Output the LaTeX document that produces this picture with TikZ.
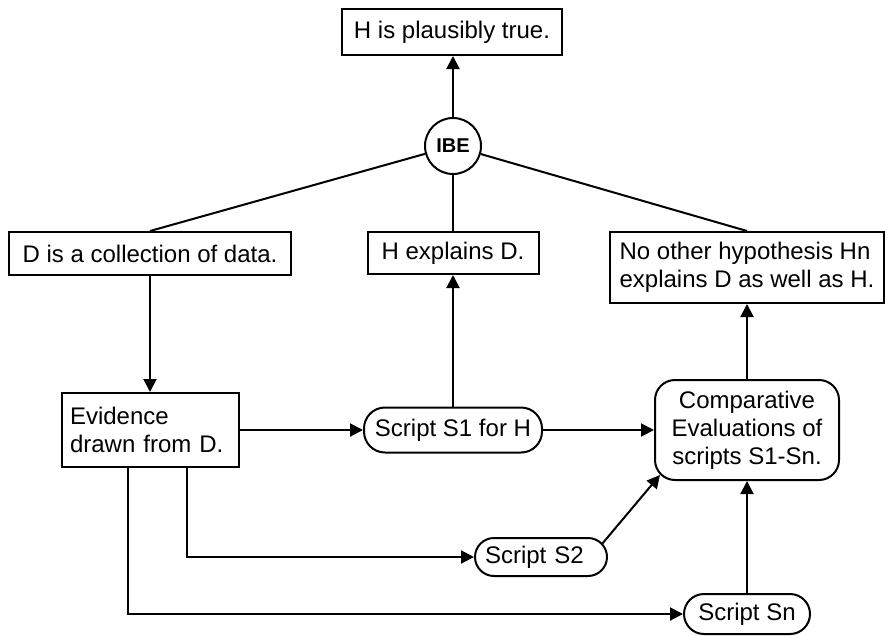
\documentclass[tikz,border=0pt]{standalone}
\usepackage{fontspec}
\setmainfont{Liberation Sans}
\usetikzlibrary{arrows.meta,calc}
\begin{document}
\begin{tikzpicture}[x=1pt,y=-1pt,
  every node/.style={font=\fontsize{24}{28}\selectfont, line width=2pt},
  box/.style={draw, rectangle, inner sep=0pt},
  pill/.style={draw, rectangle, rounded corners=#1, inner sep=0pt},
  conn/.style={line width=2pt},
  arr/.style={conn, -{Triangle[length=13pt,width=13pt]}}]

% canvas
\fill[white] (0,0) rectangle (885,635);
\useasboundingbox (0,0) rectangle (885,635);

% conclusion and inference
\node[box, minimum width=220pt, minimum height=46pt] (top) at (452,32) {H is plausibly true.};
\node[draw, circle, minimum size=56pt, inner sep=0pt,
      font=\fontsize{20}{24}\selectfont\bfseries] (ibe) at (453,146) {IBE};

% premises
\node[box, minimum width=282pt, minimum height=43pt] (data) at (150,253.5) {D is a collection of data.};
\node[box, minimum width=171pt, minimum height=42pt] (expl) at (453,253) {H explains D.};
\node[box, align=left, minimum width=274pt, minimum height=71pt]
      (noother) at (747,267.5) {No other hypothesis Hn\\explains D as well as H.};

% evidence and scripts
\node[box, text width=161pt, inner xsep=8pt, align=left, minimum height=74pt]
      (evid) at (150.5,430) {Evidence\\drawn from D.};
\node[pill=21pt, minimum width=178pt, minimum height=45pt] (s1) at (453,430) {Script S1 for H};
\node[pill=20pt, minimum width=184pt, minimum height=100pt, align=center]
      (comp) at (747,430) {Comparative\\Evaluations of\\scripts S1-Sn.};
\node[pill=19pt, text width=112pt, inner xsep=10pt, align=left, minimum height=38pt]
      (s2) at (541,557) {Script S2};
\node[pill=20pt, minimum width=126pt, minimum height=40pt] (sn) at (747,614) {Script Sn};

% IBE structure
\draw[arr] (ibe.north) -- (ibe.north |- top.south);
\draw[conn] (ibe) -- (data.north);
\draw[conn] (ibe) -- (expl.north);
\draw[conn] (ibe) -- (noother.north);

% support links
\draw[arr] (data.south) -- (data.south |- evid.north);
\draw[arr] (evid.east) -- (s1.west);
\draw[arr] (s1.north) -- (expl.south);
\draw[arr] (s1.east) -- (comp.west);
\draw[arr] (comp.north) -- (noother.south);
\draw[arr] ([xshift=36.5pt]evid.south) |- (s2.west);
\draw[arr] ([xshift=-22.5pt]evid.south) |- (sn.west);
\draw[arr] ($(s2.east)+(-6,-13)$) -- ($(comp.south west)+(6,-6)$);
\draw[arr] (sn.north) -- (comp.south);
\end{tikzpicture}
\end{document}
